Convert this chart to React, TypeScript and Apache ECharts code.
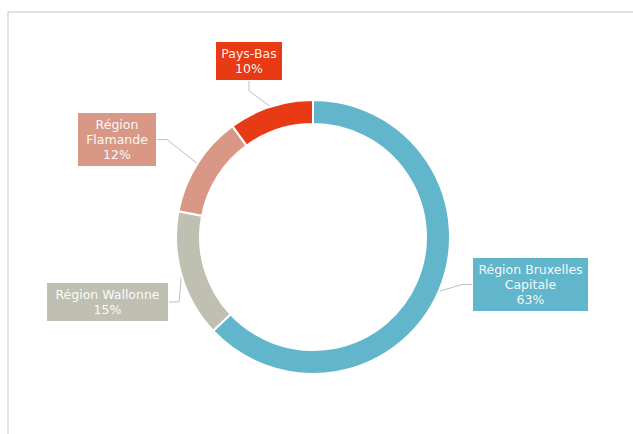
import React, { useEffect, useRef } from "react";
import * as echarts from "echarts";

const categories = ["Région Bruxelles Capitale", "Région Wallonne", "Région Flamande", "Pays-Bas"];
const labelNames = ["Région Bruxelles\nCapitale", "Région Wallonne", "Région\nFlamande", "Pays-Bas"];
const values = [63, 15, 12, 10];
const colors = ["#62B6CB", "#BFC0B2", "#D99886", "#E83A14"];

// label box layout (center x, center y, width)
const labelBoxes = [
  { cx: 530.5, cy: 284.5, w: 115 },
  { cx: 107.5, cy: 302, w: 121 },
  { cx: 117, cy: 139.5, w: 78 },
  { cx: 249, cy: 61, w: 66 },
];

export default function App() {
  const ref = useRef<HTMLDivElement>(null);
  useEffect(() => {
    if (!ref.current) return;
    const chart = echarts.init(ref.current, null, { renderer: "svg" });
    chart.setOption({
      animation: false,
      backgroundColor: "#ffffff",
      graphic: [
        {
          type: "rect",
          shape: { x: 8, y: 12, width: 640, height: 440 },
          style: { fill: "none", stroke: "#D9D9D9", lineWidth: 1.5 },
          silent: true,
        },
      ],
      series: [
        {
          type: "pie",
          center: [313, 237],
          radius: [113, 137],
          startAngle: 90,
          clockwise: true,
          itemStyle: { borderColor: "#ffffff", borderWidth: 2 },
          label: {
            show: true,
            fontFamily: "'DejaVu Sans', sans-serif",
            fontSize: 12.5,
            lineHeight: 15,
            color: "rgba(255,255,255,0.95)",
            align: "center",
            padding: [4, 0],
            borderColor: "rgba(255,255,255,0.35)",
            borderWidth: 1,
          },
          labelLine: {
            show: true,
            length: 10,
            length2: 10,
            lineStyle: { color: "#BFBFBF", width: 1 },
          },
          labelLayout: (params: any) => {
            const b = labelBoxes[params.dataIndex];
            return { x: b.cx, y: b.cy, align: "center", verticalAlign: "middle" };
          },
          data: categories.map((name, i) => ({
            name,
            value: values[i],
            itemStyle: { color: colors[i] },
            label: {
              backgroundColor: colors[i],
              width: labelBoxes[i].w,
              formatter: () => `${labelNames[i]}\n${values[i]}%`,
            },
          })),
        },
      ],
    });
    return () => chart.dispose();
  }, []);
  return (
    <div
      ref={ref}
      style={{ position: "fixed", left: 0, top: 0, width: 633, height: 434 }}
    />
  );
}
